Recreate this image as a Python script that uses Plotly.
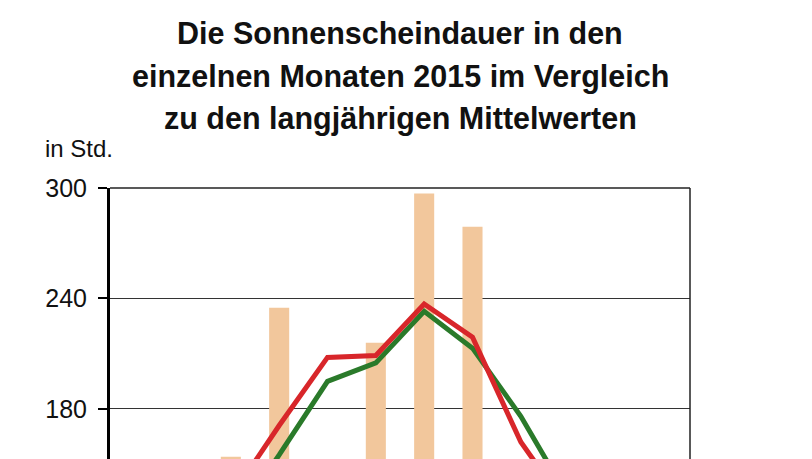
import plotly.graph_objects as go

# Monate
months = ["Jan", "Feb", "Mär", "Apr", "Mai", "Jun", "Jul", "Aug", "Sep", "Okt", "Nov", "Dez"]

# Sonnenscheindauer 2015 (Balken), in Std.
sun_2015 = [55, 85, 154, 235, 140, 216, 297, 279, 140, 95, 60, 50]

# langjaehrige Mittelwerte (Linien)
mean_red = [50, 80, 132, 171, 208, 209, 237, 219, 162, 125, 60, 45]
mean_green = [50, 78, 117, 155, 195, 205, 233, 213, 176, 131, 60, 45]

y_ticks = [180, 240, 300]

title_lines = ["Die Sonnenscheindauer in den",
               "einzelnen Monaten 2015 im Vergleich",
               "zu den langjährigen Mittelwerten"]

fig = go.Figure()

fig.add_trace(go.Bar(x=months, y=sun_2015, name='2015',
                     marker=dict(color='#F2C79C', line=dict(width=0))))
fig.add_trace(go.Scatter(x=months, y=mean_green, mode='lines', name='Mittel 1',
                         line=dict(color='#2A7A2A', width=5)))
fig.add_trace(go.Scatter(x=months, y=mean_red, mode='lines', name='Mittel 2',
                         line=dict(color='#D8262A', width=5)))

# page body has an 8px margin, so the figure is a bit smaller than the window
fig.update_layout(
    width=804, height=451,
    margin=dict(l=102, r=122, t=180, b=0),
    paper_bgcolor='white', plot_bgcolor='white',
    showlegend=False,
    bargap=0.585,
    font=dict(family='Arial, Liberation Sans, sans-serif', color='#111111'),
    xaxis=dict(showline=False, showticklabels=False, showgrid=False, ticks='', zeroline=False),
    yaxis=dict(range=[152.8, 300], tickvals=y_ticks, ticks='outside', ticklen=9, tickwidth=2,
               tickcolor='black', tickfont=dict(size=25), showgrid=True, gridcolor='#333333',
               gridwidth=1, showline=True, linecolor='black', linewidth=3, zeroline=False,
               ticklabelstandoff=6),
)

# Titel, drei Zeilen
for txt, yy in zip(title_lines, [1.572, 1.413, 1.258]):
    fig.add_annotation(text=txt, xref='paper', yref='paper', x=0.5, y=yy,
                       xanchor='center', yanchor='middle', showarrow=False,
                       font=dict(size=30.5, weight='bold', color='#111111'))

# Rahmen oben und rechts
fig.add_shape(type='line', xref='paper', yref='paper', x0=0, x1=1, y0=1, y1=1,
              line=dict(color='#222222', width=1.5))
fig.add_shape(type='line', xref='paper', yref='paper', x0=1, x1=1, y0=0, y1=1,
              line=dict(color='#222222', width=1.5))

fig.add_annotation(text='in Std.', xref='paper', yref='paper', x=-0.1155, y=1.1476,
                   xanchor='left', yanchor='middle', showarrow=False,
                   font=dict(size=24))

fig.write_html("out.html")
